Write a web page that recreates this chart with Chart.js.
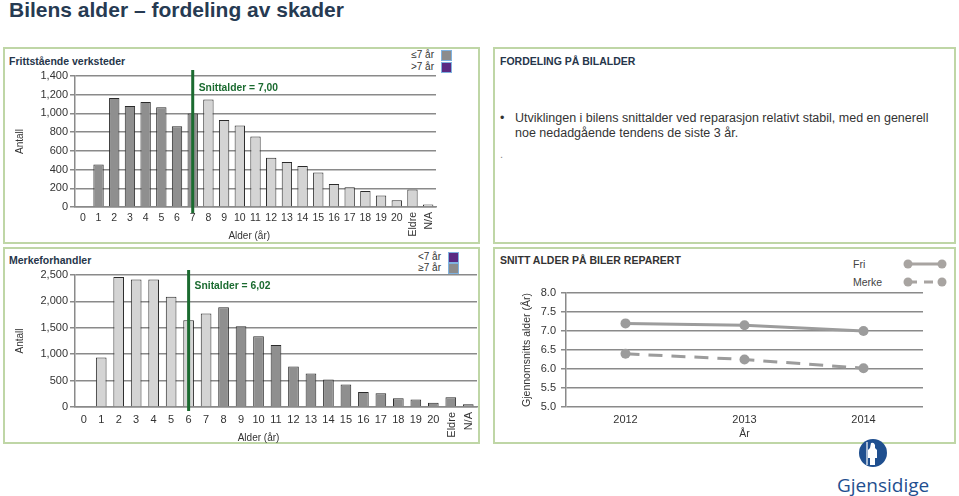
<!DOCTYPE html>
<html><head><meta charset="utf-8">
<script src="https://cdn.jsdelivr.net/npm/chart.js@4/dist/chart.umd.min.js"></script>
<style>
body{margin:0;width:959px;height:496px;background:#fff;position:relative;overflow:hidden;font-family:'Liberation Sans',Arial,sans-serif;color:#333;}
.abs{position:absolute;white-space:nowrap;}
.panel{position:absolute;border:2px solid #bfd6a6;box-sizing:border-box;}
canvas{position:absolute;}
.sq{position:absolute;width:9px;height:9px;border:1.5px solid #7fb2e0;}
</style></head>
<body>
<div class="abs" style="left:9px;top:0px;font:bold 21px/20px 'Liberation Sans',Arial,sans-serif;color:#263a52;">Bilens alder – fordeling av skader</div>

<div class="panel" style="left:3px;top:47px;width:477px;height:197px;"></div>
<div class="panel" style="left:3px;top:247px;width:477px;height:197px;"></div>
<div class="panel" style="left:493px;top:47px;width:463px;height:197px;"></div>
<div class="panel" style="left:493px;top:247px;width:463px;height:197px;"></div>

<div class="abs" style="left:9px;top:55px;font:bold 10.5px 'Liberation Sans',Arial,sans-serif;color:#26364a;">Frittstående verksteder</div>
<div class="abs" style="left:9px;top:254px;font:bold 10.5px 'Liberation Sans',Arial,sans-serif;color:#26364a;">Merkeforhandler</div>

<!-- bar legends -->
<div class="abs" style="right:525px;top:49px;font-size:10px;">≤7 år</div>
<div class="abs" style="right:525px;top:61px;font-size:10px;">&gt;7 år</div>
<div class="sq" style="left:441px;top:50px;background:#8c8c8c;"></div>
<div class="sq" style="left:441px;top:62px;background:#5a2a82;"></div>

<div class="abs" style="right:518px;top:251px;font-size:10px;">&lt;7 år</div>
<div class="abs" style="right:518px;top:262px;font-size:10px;">≥7 år</div>
<div class="sq" style="left:448px;top:252px;background:#5a2a82;"></div>
<div class="sq" style="left:448px;top:263px;background:#8c8c8c;"></div>

<!-- text panel -->
<div class="abs" style="left:500px;top:55px;font:bold 10.5px 'Liberation Sans',Arial,sans-serif;color:#26364a;">FORDELING PÅ BILALDER</div>
<div class="abs" style="left:500px;top:111px;font-size:12.5px;line-height:15px;">•</div>
<div class="abs" style="left:515px;top:111px;font-size:12.5px;line-height:15px;white-space:normal;width:430px;">Utviklingen i bilens snittalder ved reparasjon relativt stabil, med en generell noe nedadgående tendens de siste 3 år.</div>
<div class="abs" style="left:500px;top:148px;font-size:11px;color:#888;">.</div>

<!-- line chart title and legend -->
<div class="abs" style="left:500px;top:254px;font:bold 10.5px 'Liberation Sans',Arial,sans-serif;color:#333;">SNITT ALDER PÅ BILER REPARERT</div>
<div class="abs" style="left:853px;top:258px;font-size:10.5px;color:#444;">Fri</div>
<div class="abs" style="left:853px;top:276px;font-size:10.5px;color:#444;">Merke</div>
<svg class="abs" style="left:900px;top:255px;" width="50" height="36">
 <line x1="8" y1="9" x2="42" y2="9" stroke="#a8a4a1" stroke-width="3"/>
 <circle cx="8" cy="9" r="4.5" fill="#a8a4a1"/><circle cx="42" cy="9" r="4.5" fill="#a8a4a1"/>
 <line x1="8" y1="27" x2="42" y2="27" stroke="#a8a4a1" stroke-width="3" stroke-dasharray="9,7"/>
 <circle cx="8" cy="27" r="4.5" fill="#a8a4a1"/><circle cx="42" cy="27" r="4.5" fill="#a8a4a1"/>
</svg>

<!-- logo -->
<svg class="abs" style="left:858px;top:438px;" width="30" height="30">
 <circle cx="15" cy="15" r="14" fill="#1f4f8f"/>
 <path d="M13 5 q3 -1 4 2 l0 3 l2 2 l0 8 l-2 0 l0 7 l-5 0 l0 -7 l-2 0 l0 -8 l2 -2 z" fill="#fff"/>
 <line x1="9" y1="4" x2="9" y2="27" stroke="#fff" stroke-width="1.2"/>
</svg>
<div class="abs" style="left:837px;top:472px;font:19px 'Open Sans',sans-serif;color:#1f4f8f;">Gjensidige</div>

<canvas id="c1" width="477" height="197" style="left:3px;top:47px;"></canvas>
<canvas id="c2" width="477" height="199" style="left:3px;top:247px;"></canvas>
<canvas id="c3" width="462" height="198" style="left:494px;top:247px;"></canvas>

<script>
// ---------- DATA ----------
const ageLabels = ['0','1','2','3','4','5','6','7','8','9','10','11','12','13','14','15','16','17','18','19','20','Eldre','N/A'];
const frittValues = [0,455,1165,1080,1123,1066,863,998,1148,931,870,753,526,480,437,370,245,210,171,124,71,188,28];
const merkeValues = [0,939,2462,2417,2417,2088,1643,1770,1891,1529,1339,1174,768,634,520,425,286,260,165,140,82,184,51];
const frittMeanAge = 7;        // category index of the mean line
const merkeMeanAge = 6;
const frittMeanText = 'Snittalder = 7,00';
const merkeMeanText = 'Snitalder = 6,02';
const years = ['2012','2013','2014'];
const friAvgAge = [7.2, 7.15, 7.0];
const merkeAvgAge = [6.4, 6.25, 6.02];

// ---------- STYLE ----------
const FONT = "'Liberation Sans', Arial, sans-serif";
Chart.defaults.font.family = FONT;
Chart.defaults.font.size = 11;
Chart.defaults.color = '#333';
const GRID = '#8a8a8a';
const DARK = '#8f8f8f', LIGHT = '#d4d4d4', GREEN = '#1b6b30';

const vertLabels = {
  id: 'vertLabels',
  afterDraw(chart, args, o) {
    const xs = chart.scales.x, ctx = chart.ctx;
    ctx.save();
    ctx.font = o.font + 'px ' + FONT; ctx.fillStyle = '#333';
    chart.data.labels.forEach((l, i) => {
      if (isNaN(+l)) {
        const x = xs.getPixelForTick(i);
        ctx.save();
        ctx.translate(x + 1, xs.top + 5);
        ctx.rotate(-Math.PI / 2);
        ctx.textAlign = 'right'; ctx.textBaseline = 'middle';
        ctx.fillText(l, 0, 0);
        ctx.restore();
      }
    });
    if (o.title) {
      const a = xs.getPixelForTick(10), b = xs.getPixelForTick(11);
      ctx.font = '10px ' + FONT;
      ctx.textAlign = 'center'; ctx.textBaseline = 'middle';
      ctx.fillText(o.title, a + o.frac * (b - a), chart.height - o.fromBottom);
    }
    ctx.restore();
  }
};
const meanLine = {
  id: 'meanLine',
  afterDatasetsDraw(chart, args, o) {
    const xs = chart.scales.x, ca = chart.chartArea, ctx = chart.ctx;
    const x = xs.getPixelForValue(o.index);
    ctx.save();
    ctx.strokeStyle = GREEN; ctx.lineWidth = 3;
    ctx.beginPath(); ctx.moveTo(x, ca.top + o.top); ctx.lineTo(x, ca.bottom + o.bottom); ctx.stroke();
    ctx.font = 'bold 10.3px ' + FONT; ctx.fillStyle = GREEN;
    ctx.textBaseline = 'middle'; ctx.textAlign = 'left';
    ctx.fillText(o.text, x + 6, ca.top + o.textY);
    ctx.restore();
  }
};

function barChart(id, values, colorFn, max, step, area, canvasTop, canvasH, barPct, mean, titleOpt) {
  const padTop = area.top - canvasTop;
  new Chart(document.getElementById(id), {
    type: 'bar',
    data: { labels: ageLabels, datasets: [{
      data: values,
      backgroundColor: values.map((v, i) => colorFn(i)),
      borderColor: '#2a2a2a', borderWidth: 1,
      barPercentage: barPct, categoryPercentage: 1
    }]},
    options: {
      responsive: false, animation: false, devicePixelRatio: 1,
      layout: { padding: { top: padTop, right: area.right, left: 0, bottom: 0 } },
      plugins: { legend: { display: false }, tooltip: { enabled: false },
        meanLine: mean, vertLabels: titleOpt },
      scales: {
        x: {
          grid: { display: false, drawTicks: false },
          border: { display: true, color: GRID, width: 1.5 },
          ticks: { autoSkip: false, maxRotation: 0, padding: area.xPad, font: { size: titleOpt.font },
            callback: function(v, i) { const l = ageLabels[i]; return isNaN(+l) ? '' : l; } },
          afterFit: s => { s.height = canvasTop + canvasH - area.bottom; }
        },
        y: {
          min: 0, max: max,
          ticks: { stepSize: step, padding: 2, callback: v => v.toLocaleString('en-US') },
          grid: { color: GRID, lineWidth: 1.5, tickLength: 5 },
          border: { display: true, color: GRID, width: 1.5 },
          title: { display: true, text: 'Antall', font: { size: 10 }, padding: { top: 11, bottom: 0 } },
          afterFit: s => { s.width = area.left; }
        }
      }
    },
    plugins: [meanLine, vertLabels]
  });
}

barChart('c1', frittValues, i => (i <= 7 ? DARK : LIGHT), 1400, 200,
  { top: 76, bottom: 207, left: 72, right: 44, xPad: 5 }, 47, 197, 0.66,
  { index: frittMeanAge, text: frittMeanText, top: -6, bottom: 6, textY: 12 },
  { title: 'Alder (år)', frac: 0.6, fromBottom: 8, font: 10.5 });

barChart('c2', merkeValues, i => (i <= 7 ? LIGHT : DARK), 2500, 500,
  { top: 275, bottom: 407, left: 72, right: 3, xPad: 6 }, 247, 199, 0.61,
  { index: merkeMeanAge, text: merkeMeanText, top: -5, bottom: 4, textY: 11 },
  { title: 'Alder (år)', frac: 0.0, fromBottom: 8, font: 11 });

// line chart
new Chart(document.getElementById('c3'), {
  type: 'line',
  data: { labels: years, datasets: [
    { label: 'Fri', data: friAvgAge, borderColor: '#9c9c9c', backgroundColor: '#9c9c9c',
      borderWidth: 3, pointRadius: 5, pointBackgroundColor: '#9c9c9c', pointBorderWidth: 0, tension: 0 },
    { label: 'Merke', data: merkeAvgAge, borderColor: '#9c9c9c', backgroundColor: '#9c9c9c',
      borderWidth: 3, borderDash: [14, 9], pointRadius: 5, pointBackgroundColor: '#9c9c9c', pointBorderWidth: 0, tension: 0 }
  ]},
  options: {
    responsive: false, animation: false, devicePixelRatio: 1,
    layout: { padding: { top: 293 - 247, right: 956 - 923, left: 0, bottom: 0 } },
    plugins: { legend: { display: false }, tooltip: { enabled: false } },
    scales: {
      x: { offset: true, grid: { display: false, drawTicks: false },
        border: { display: false },
        ticks: { padding: 6 },
        title: { display: true, text: 'År', font: { size: 10.5 }, padding: { top: 0, bottom: 5 } },
        afterFit: s => { s.height = 445 - 407; } },
      y: { min: 5, max: 8,
        ticks: { stepSize: 0.5, padding: 5, callback: v => v.toFixed(1) },
        grid: { color: GRID, lineWidth: 1.5, tickLength: 5 },
        border: { display: true, color: GRID, width: 1.5 },
        title: { display: true, text: 'Gjennomsnitts alder (År)', font: { size: 10.5 }, padding: { top: 27, bottom: 0 } },
        afterFit: s => { s.width = 566 - 494; } }
    }
  }
});
</script>
</body></html>
